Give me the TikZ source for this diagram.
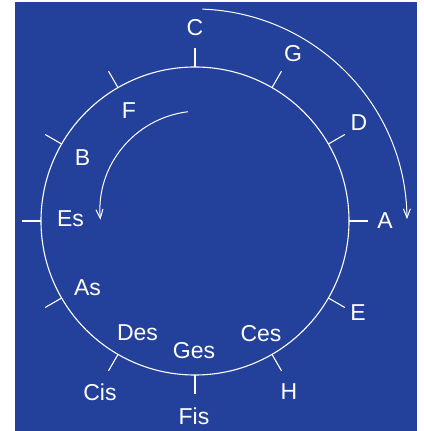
\documentclass[tikz,border=0pt]{standalone}
\usepackage{fontspec}
\setmainfont{Liberation Sans}
\usetikzlibrary{arrows.meta,calc}
\definecolor{bgblue}{RGB}{35,64,155}
\tikzset{
  note/.style={text=white, inner sep=0pt, font=\fontsize{23}{26}\selectfont},
  ring/.style={draw=white, line width=1.1pt},
  tick/.style={draw=white, line width=1.1pt},
  turn/.style={draw=white, line width=1pt, -{Straight Barb[length=9pt,width=7pt,line width=1pt]}}
}
\begin{document}
\begin{tikzpicture}[x=1pt,y=1pt]
  \useasboundingbox (0,0) rectangle (423,431);
  \fill[white] (0,0) rectangle (423,431);
  \fill[bgblue] (15,0) rectangle (416.5,429);
  % circle of fifths
  \coordinate (O) at (195,210);
  \draw[ring] (O) circle[radius=154];
  \foreach \a in {0,30,...,330}
    \draw[tick] ($(O)+(\a:154)$) -- ($(O)+(\a:173)$);
  % outer labels
  \node[note] (C)   at (195,403.5) {C};
  \node[note] (G)   at (293,377)   {G};
  \node[note] (D)   at (359,308.5) {D};
  \node[note] (A)   at (385,210)   {A};
  \node[note] (E)   at (358,118.5) {E};
  \node[note] (H)   at (289,39)    {H};
  \node[note] (Fis) at (194,15)    {Fis};
  \node[note] (Cis) at (100,39)    {Cis};
  % inner labels
  \node[note] (F)   at (129,320)   {F};
  \node[note] (B)   at (82.5,273.5){B};
  \node[note] (Es)  at (70.5,212)  {Es};
  \node[note] (As)  at (87.5,143)  {As};
  \node[note] (Des) at (137.5,98.5){Des};
  \node[note] (Ges) at (194,80)    {Ges};
  \node[note] (Ces) at (261,97)    {Ces};
  % arrows
  \coordinate (P) at (200,220);
  \draw[turn] ($(O)+(88:212)$) arc[start angle=88, end angle=0.5, radius=212];
  \draw[turn] ($(P)+(97:100)$) arc[start angle=97, end angle=185, radius=100];
\end{tikzpicture}
\end{document}
